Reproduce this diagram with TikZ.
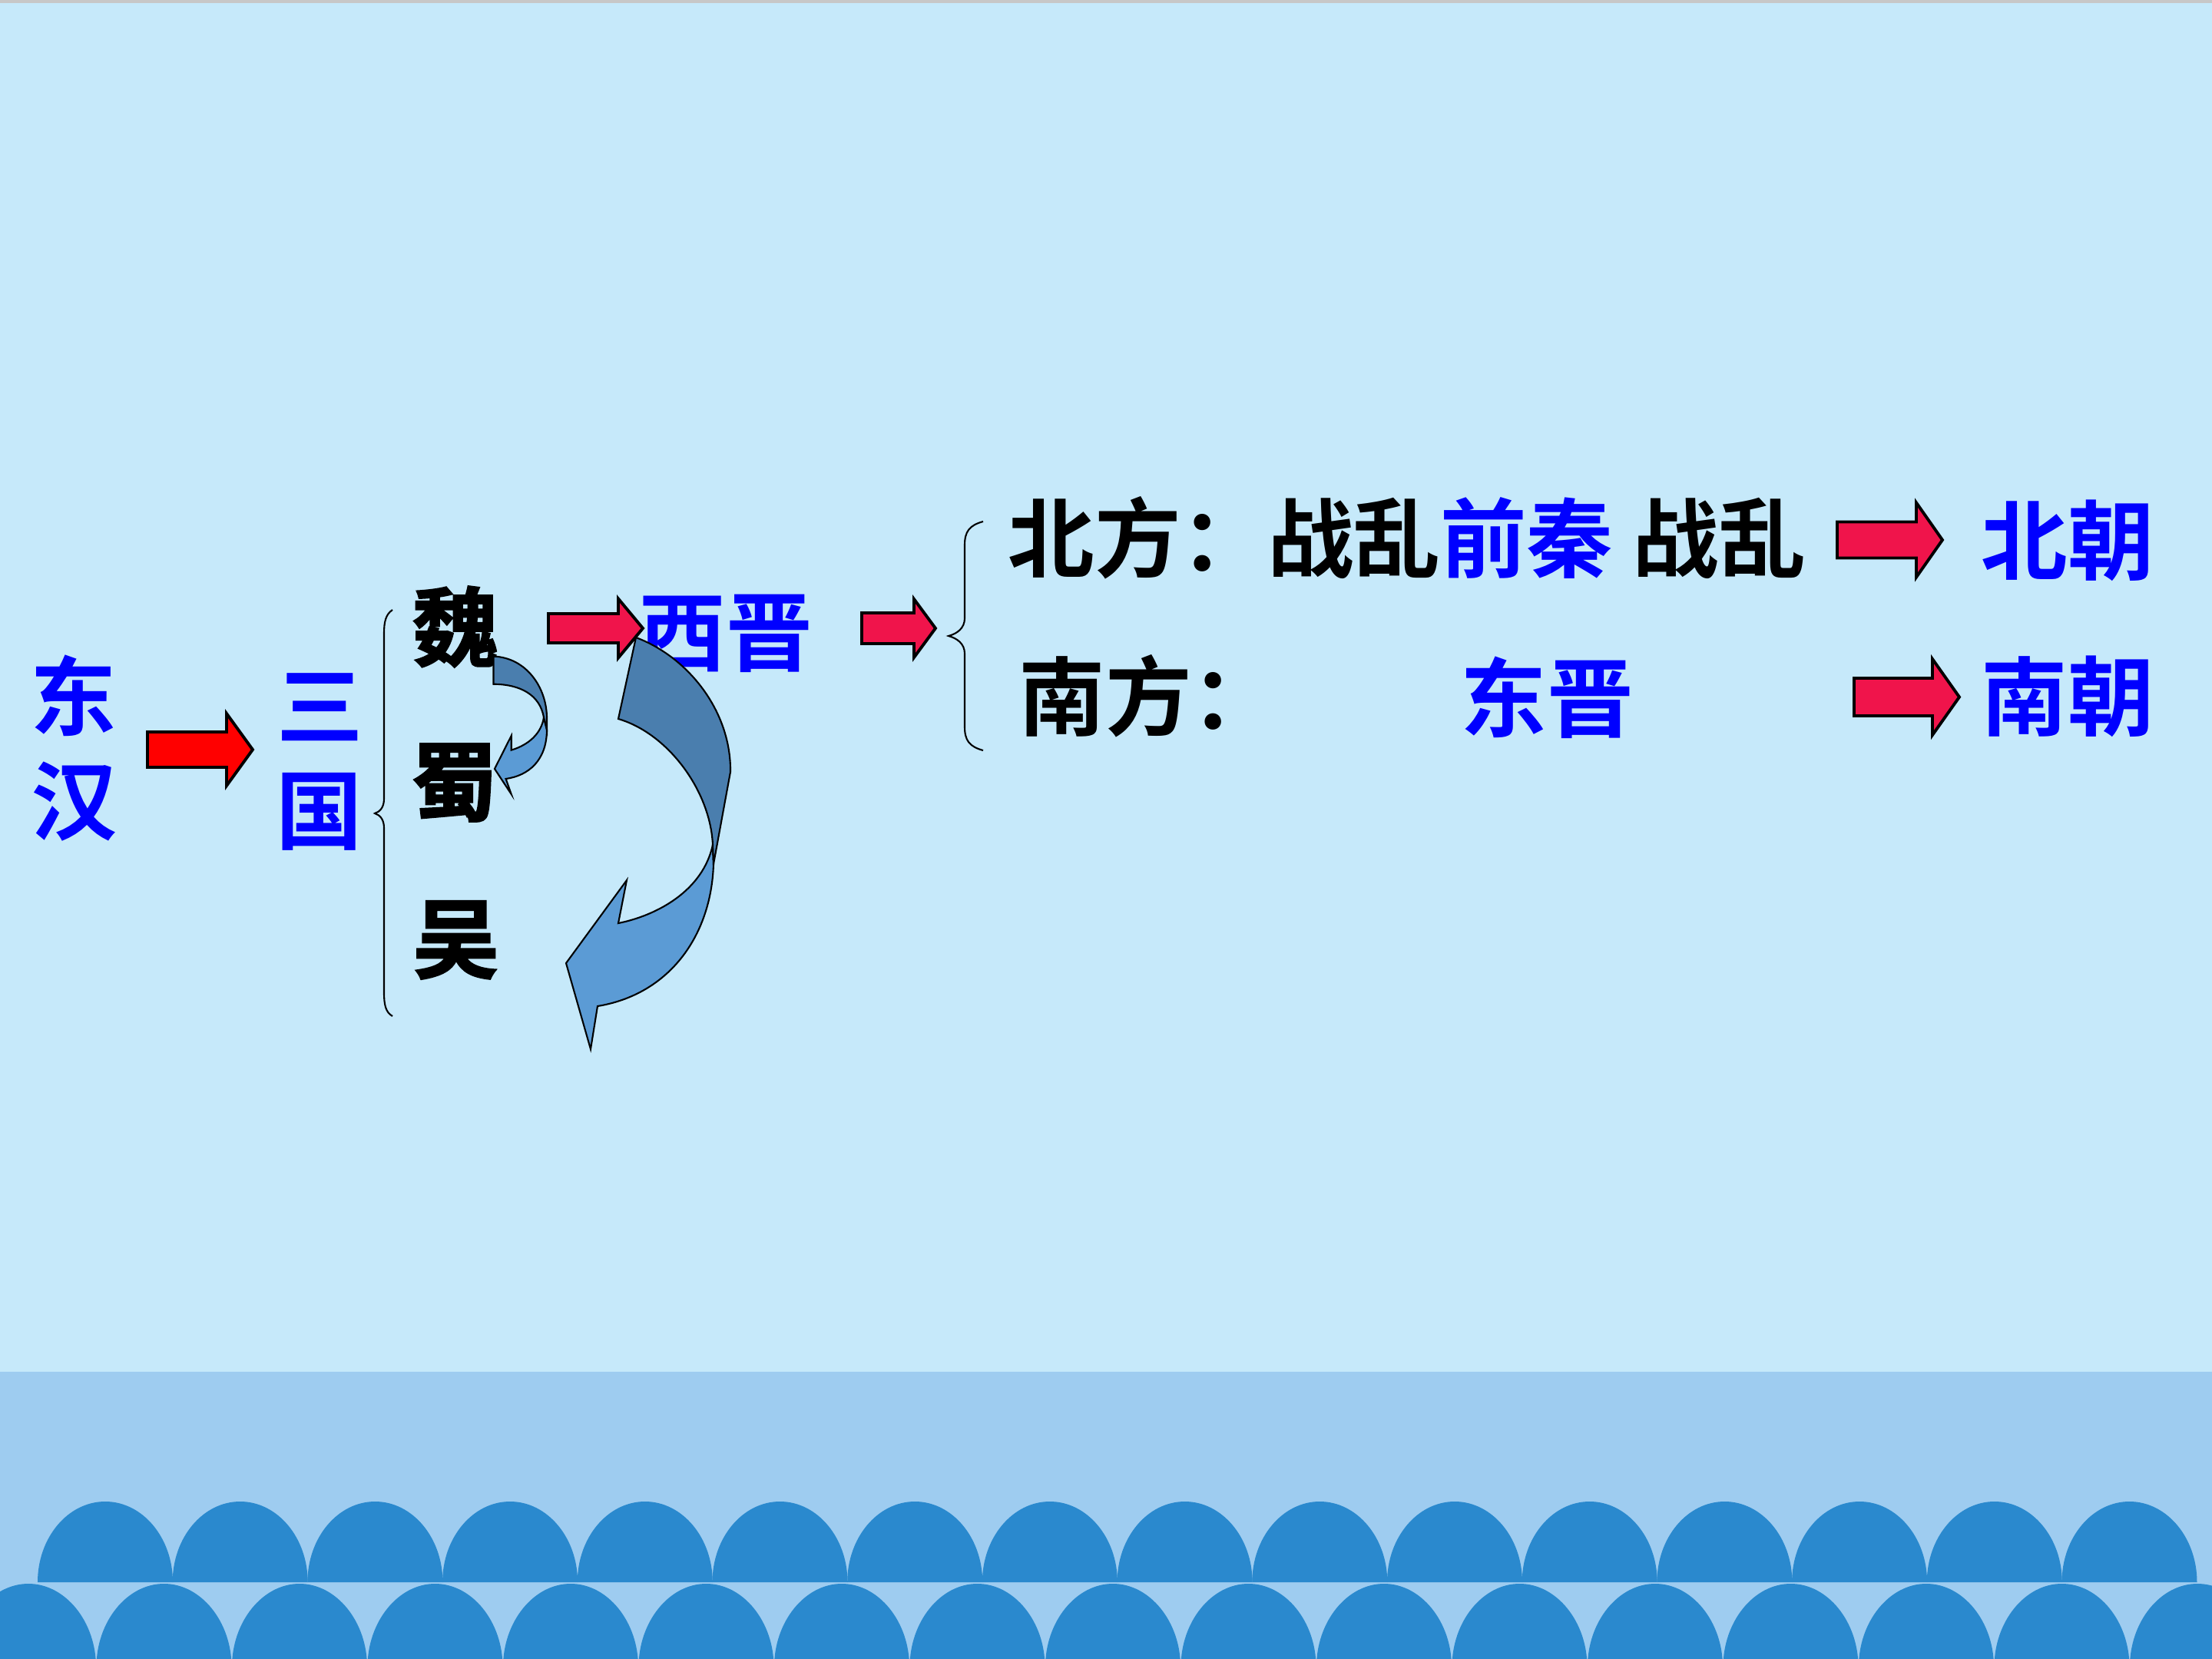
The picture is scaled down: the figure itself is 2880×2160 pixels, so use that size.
\documentclass[tikz,border=0pt]{standalone}
\usepackage{fontspec}
\newfontfamily\cjk{Noto Sans CJK SC}[BoldFont={* Bold}]
\newfontfamily\cjkheavy{Noto Sans CJK SC}[UprightFont={* Bold}, FakeBold=2]
\definecolor{bgc}{RGB}{198,233,250}
\definecolor{bandc}{RGB}{158,204,240}
\definecolor{archc}{RGB}{42,137,206}
\definecolor{txtblue}{RGB}{0,0,255}
\definecolor{redA}{RGB}{255,0,0}
\definecolor{redB}{RGB}{240,20,75}
\definecolor{ribdark}{RGB}{74,126,174}
\definecolor{riblight}{RGB}{91,155,213}
\newcommand\myblockarrow[7]{%
  \filldraw[fill=#1, draw=black, line width=1.1pt, line join=miter]
    (#2,#5-#6) -- (#3,#5-#6) -- (#3,#5-#7) -- (#4,#5) -- (#3,#5+#7) -- (#3,#5+#6) -- (#2,#5+#6) -- cycle;}
\begin{document}
\begin{tikzpicture}[x=0.01cm,y=-0.01cm,
  txt/.style={inner sep=0pt, font=\cjk\bfseries\fontsize{32pt}{32pt}\selectfont},
  bluetxt/.style={txt, text=txtblue},
  blacktxt/.style={txt, text=black},
  heavytxt/.style={inner sep=0pt, text=black, font=\cjkheavy\fontsize{32pt}{32pt}\selectfont},
  bracec/.style={draw=black, line width=0.6pt},
  ribbon/.style={draw=black, line width=0.6pt, line join=miter}]
\useasboundingbox (0,0) rectangle (2880,2160);
\clip (0,0) rectangle (2880,2160);
% background
\fill[bgc] (0,0) rectangle (2880,2160);
\fill[black!22] (0,0) rectangle (2880,4);
\fill[bandc] (0,1786) rectangle (2880,2160);
% scallops, top row
\foreach \k in {0,...,15}{
  \pgfmathsetmacro\cx{137+175.7*\k}
  \fill[archc] (\cx-88,2060) .. controls (\cx-88,2002) and (\cx-48.6,1955) .. (\cx,1955)
     .. controls (\cx+48.6,1955) and (\cx+88,2002) .. (\cx+88,2060) -- cycle;
}
% scallops, bottom row
\foreach \k in {0,...,16}{
  \pgfmathsetmacro\cx{37+176.5*\k}
  \fill[archc] (\cx-88,2170) .. controls (\cx-88,2112) and (\cx-48.6,2062) .. (\cx,2062)
     .. controls (\cx+48.6,2062) and (\cx+88,2112) .. (\cx+88,2170) -- cycle;
}
% texts
\node[bluetxt] (dong) at (96,906) {东};
\node[bluetxt] (han) at (97,1044) {汉};
\node[bluetxt] (san) at (417,921) {三};
\node[bluetxt] (guo) at (416,1057) {国};
\node[heavytxt] (wei) at (593,816) {魏};
\node[heavytxt] (shu) at (592,1019) {蜀};
\node[heavytxt] (wu) at (594,1224) {吴};
\node[bluetxt] (xijin) at (945,825) {西晋};
\node[blacktxt, anchor=west] (north) at (1312,700) {北方：战乱\textcolor{txtblue}{前秦} 战乱};
\node[blacktxt, anchor=west] (south) at (1326,906) {南方：};
\node[bluetxt] (dongjin) at (2014,908) {东晋};
\node[bluetxt] (beichao) at (2692,704) {北朝};
\node[bluetxt] (nanchao) at (2692,907) {南朝};
% braces
\draw[bracec] (511,794) .. controls (502,800) and (500,810) .. (500,825) -- (500,1040)
   .. controls (500,1052) and (494,1057) .. (488,1059) .. controls (494,1061) and (500,1066) .. (500,1078)
   -- (500,1292) .. controls (500,1308) and (502,1318) .. (511,1323);
\draw[bracec] (1280,679) .. controls (1262,684) and (1256,692) .. (1256,710) -- (1256,805)
   .. controls (1256,818) and (1246,825) .. (1235,828) .. controls (1246,831) and (1256,838) .. (1256,851)
   -- (1256,946) .. controls (1256,964) and (1262,972) .. (1280,977);
% block arrows
\myblockarrow{redA}{192}{295}{329}{976}{23}{47}
\myblockarrow{redB}{714}{805}{837}{818}{19}{38.5}
\myblockarrow{redB}{1122}{1190}{1218}{818}{20}{38}
\myblockarrow{redB}{2392}{2495}{2529}{703}{23.5}{48.5}
\myblockarrow{redB}{2414}{2516}{2551}{907.5}{24.5}{49.5}
% small curved ribbon arrow (wei -> shu)
\filldraw[ribbon, fill=riblight] (708,934) -- (712,950) .. controls (712,990) and (688,1010) .. (658.6,1014)
   -- (665.7,1034) -- (644,1001) -- (665.7,958) -- (665.7,976.6)
   .. controls (688,970) and (705,955) .. (708,934) -- cycle;
\filldraw[ribbon, fill=ribdark] (642.5,854.6) .. controls (685,856) and (712,895) .. (712,935)
   -- (712,950) -- (708,934) .. controls (703,905) and (678,891) .. (642.5,890.7) -- cycle;
% large curved ribbon arrow (xijin -> wu)
\filldraw[ribbon, fill=riblight] (928,1100) -- (929,1125) .. controls (926,1220) and (870,1295) .. (778,1310)
   -- (769,1366) -- (737,1254) -- (816,1146) -- (805,1202)
   .. controls (855,1192) and (915,1160) .. (928,1100) -- cycle;
\filldraw[ribbon, fill=ribdark] (828,830) .. controls (895,855) and (952,925) .. (951,1005)
   -- (929,1125) -- (928,1100) .. controls (925,1030) and (870,955) .. (805,936) -- cycle;
\end{tikzpicture}
\end{document}
